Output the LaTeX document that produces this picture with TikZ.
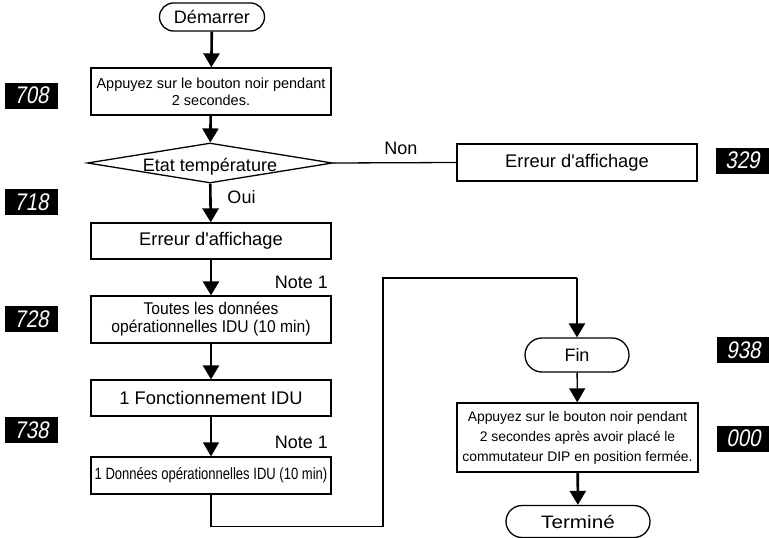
\documentclass[tikz,border=0pt]{standalone}
\usepackage{fontspec}
\setmainfont{Liberation Sans}
\newfontfamily\narrowfont{Liberation Sans}[FakeStretch=0.8]
\newfontfamily\midfont{Liberation Sans}[FakeStretch=0.92]
\newfontfamily\widefont{Liberation Sans}[FakeStretch=1.15]
\newfontfamily\segfont{Liberation Sans}[FakeSlant=0.18,FakeStretch=0.85]
\usepackage{tikz}
\usetikzlibrary{shapes.geometric, shapes.misc, arrows.meta, calc}

\tikzset{
  stepbox/.style={draw, line width=1.3pt, rectangle, minimum width=240pt, inner sep=2pt, align=center},
  termbox/.style={draw, line width=1.3pt, rounded rectangle, inner sep=0pt, font=\fontsize{18}{21}\selectfont},
  disp/.style={fill=black, text=white, minimum width=53pt, minimum height=26pt, inner sep=0pt, font=\segfont\fontsize{24}{24}\selectfont},
  flow/.style={line width=2.6pt, -{Triangle[length=14pt 0 0,width=16pt 0 0]}},
  thinflow/.style={line width=1.3pt, -{Triangle[length=14pt 0 0,width=16pt 0 0]}},
  lbl/.style={font=\fontsize{18}{21}\selectfont, inner sep=0pt}
}

\begin{document}
\begin{tikzpicture}[x=1pt, y=-1pt]
\useasboundingbox (0,0) rectangle (769,538);

% Left column
\node[termbox, minimum width=105pt, minimum height=28pt] (start) at (212,17) {Démarrer};
\node[stepbox, minimum height=47pt, font=\fontsize{14.5}{17}\selectfont] (press) at (211,91.5)
    {Appuyez sur le bouton noir pendant\\2 secondes.};
\node[draw, line width=1.3pt, diamond, aspect=6, inner sep=0pt, minimum width=245pt, minimum height=40pt,
    font=\fontsize{18}{21}\selectfont] (temp) at (210,163) {\raisebox{-4pt}[\height][\depth]{Etat température}};
\node[stepbox, minimum height=36pt, font=\fontsize{18.3}{21}\selectfont] (show) at (211,241) {Erreur d\textquotesingle affichage};
\node[stepbox, minimum height=47pt, font=\midfont\fontsize{17}{18}\selectfont] (all) at (211,319.5)
    {Toutes les données\\opérationnelles IDU (10 min)};
\node[stepbox, minimum height=36pt, font=\fontsize{18.3}{21}\selectfont] (idu) at (211,398) {1 Fonctionnement IDU};
\node[stepbox, minimum height=37pt, font=\narrowfont\fontsize{16.3}{18}\selectfont] (one) at (211,475.5)
    {1 Données opérationnelles IDU (10 min)};

% Error branch
\node[stepbox, minimum height=37pt, font=\fontsize{18.3}{21}\selectfont] (err) at (577,162.5) {Erreur d\textquotesingle affichage};

% Right column
\node[termbox, minimum width=104pt, minimum height=34pt] (fin) at (577,355) {Fin};
\node[stepbox, minimum width=241pt, minimum height=69pt, font=\fontsize{13.9}{20}\selectfont] (press2) at (577.5,437.5)
    {Appuyez sur le bouton noir pendant\\2 secondes après avoir placé le\\commutateur DIP en position fermée.};
\node[termbox, minimum width=144pt, minimum height=32pt, font=\widefont\fontsize{18}{21}\selectfont] (done) at (578,521.5) {Terminé};

% Codes
\node[disp] (c708) at (31.5,95.5) {708};
\node[disp] (c718) at (31.5,202) {718};
\node[disp] (c728) at (31.5,319) {728};
\node[disp] (c738) at (31.5,430) {738};
\node[disp] (c329) at (742.5,160.5) {329};
\node[disp] (c938) at (743.5,350) {938};
\node[disp] (c000) at (743.5,438.5) {000};

% Arrows
\draw[flow] (start) -- (press);
\draw[flow] (press) -- (temp);
\draw[flow] (temp) -- (show);
\draw[flow] (show) -- (all);
\draw[flow] (all) -- (idu);
\draw[thinflow] (idu) -- (one);
\draw[line width=1.3pt] (temp.east) -- (err.west);

% Loop to the end
\coordinate (turn) at (fin.north |- 0,278);
\draw[line width=1.5pt] (one.south) -- ++(0,32) -| (383,278) -- (turn);
\draw[flow] (turn) -- (fin);
\draw[thinflow] (fin) -- (press2);
\draw[flow] (press2) -- (done);

% Labels
\node[lbl] (non) at (401,148) {Non};
\node[lbl] (oui) at (241.5,197) {Oui};
\node[lbl, anchor=east] (note1) at (328,282) {Note 1};
\node[lbl, anchor=east] (note2) at (328,442) {Note 1};
\end{tikzpicture}
\end{document}
